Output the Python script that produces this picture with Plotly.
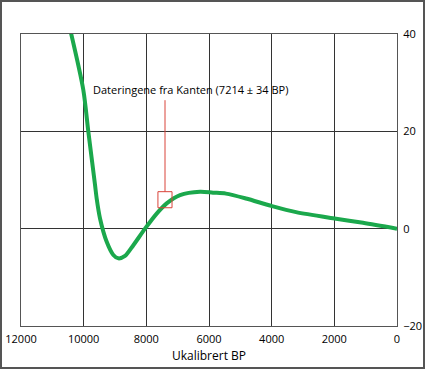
import plotly.graph_objects as go

# Curve data (calibrated BP vs deviation)
bp = [10404, 10011, 9851, 9638, 9585, 9478, 9265, 9053, 8893, 8680, 8415, 8042,
      7669, 7351, 6925, 6286, 5871, 5457, 4818, 4020, 3222, 1945, 1083, 0]
val = [40.2, 28.5, 19.9, 9.0, 6.2, 2.1, -2.7, -5.4, -6.1, -5.6, -3.4, 0.0,
       3.1, 5.2, 6.9, 7.6, 7.4, 7.2, 6.2, 4.7, 3.4, 2.05, 1.2, 0.0]

x_ticks = [12000, 10000, 8000, 6000, 4000, 2000, 0]
y_ticks = [-20, 0, 20, 40]

label_text = "Dateringene fra Kanten (7214 \u00b1 34 BP)"
label_x = 9766
label_y = 28.6
box_x = [7630, 7180]
box_y = [4.3, 7.6]
leader_x = 7404
leader_top = 26.4

FONT = "Open Sans"

fig = go.Figure()
fig.add_trace(go.Scatter(
    x=bp, y=val, mode="lines",
    line=dict(color="#1ba84c", width=4, shape="spline", smoothing=0.8),
    showlegend=False, hoverinfo="skip"))

fig.add_shape(type="rect", xref="x", yref="y",
              x0=box_x[0], x1=box_x[1], y0=box_y[0], y1=box_y[1],
              line=dict(color="#d9443a", width=1))
fig.add_shape(type="line", xref="x", yref="y",
              x0=leader_x, x1=leader_x, y0=box_y[1], y1=leader_top,
              line=dict(color="#d9443a", width=1))
fig.add_annotation(x=label_x, y=label_y, xref="x", yref="y", text=label_text,
                   showarrow=False, xanchor="left", yanchor="middle",
                   font=dict(family=FONT, size=11, color="#000"))

# figure border
fig.add_shape(type="rect", xref="paper", yref="paper",
              x0=(1 - 21) / 376, x1=(424 - 21) / 376,
              y0=-(368 - 326) / 292, y1=1 + (34 - 1) / 292,
              line=dict(color="#555", width=2))

fig.update_xaxes(range=[12000, 0], tickvals=x_ticks, ticktext=[str(v) for v in x_ticks],
                 showgrid=True, gridcolor="#333", gridwidth=1, zeroline=False,
                 showline=True, linecolor="#555", linewidth=1, mirror=True,
                 automargin=False, ticklabelstandoff=3,
                 ticks="", title=dict(text="Ukalibrert BP", standoff=6,
                                      font=dict(family=FONT, size=12, color="#000")),
                 tickfont=dict(family=FONT, size=11, color="#000"))
fig.update_yaxes(range=[-20, 40], tickvals=y_ticks, side="right",
                 showgrid=True, gridcolor="#333", gridwidth=1, zeroline=False,
                 showline=True, linecolor="#555", linewidth=1, mirror=True,
                 automargin=False, ticklabelstandoff=3,
                 ticks="", tickfont=dict(family=FONT, size=11, color="#000"))

fig.update_layout(width=426, height=370, margin=dict(l=21, r=29, t=34, b=44),
                  plot_bgcolor="white", paper_bgcolor="white",
                  font=dict(family=FONT))

fig.write_html("out.html", config={"displayModeBar": False},
               post_script="document.body.style.margin='0';")
